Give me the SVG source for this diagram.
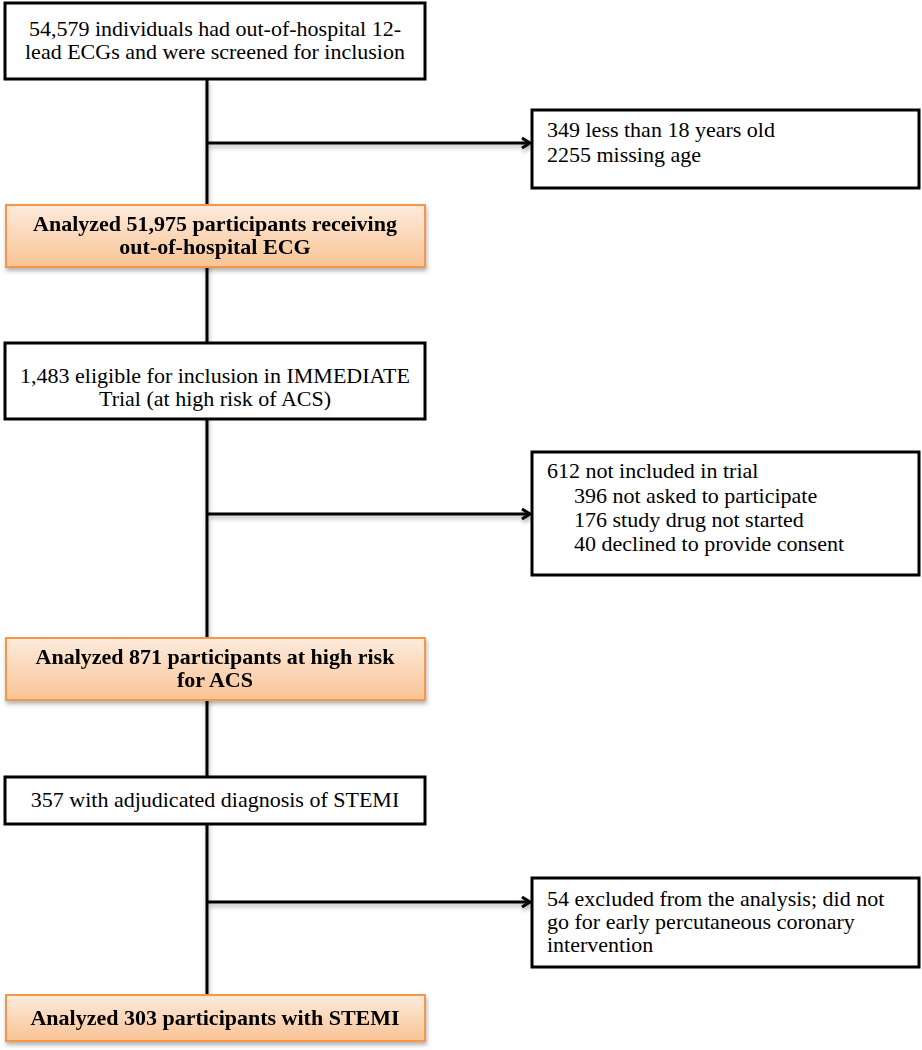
<svg xmlns="http://www.w3.org/2000/svg" width="922" height="1050" viewBox="0 0 922 1050">
<style>
.box{fill:#ffffff;stroke:#000000;stroke-width:3}
.obox{fill:url(#og);stroke:#f79646;stroke-width:2}
.t{font-family:"Liberation Serif","DejaVu Serif",serif;font-size:22px;fill:#000000}
.b{font-family:"Liberation Serif","DejaVu Serif",serif;font-size:22px;font-weight:bold;fill:#000000}
.ln{stroke:#000000;stroke-width:3;fill:none}
</style>
<defs>
<linearGradient id="og" x1="0" y1="0" x2="0" y2="1">
<stop offset="0" stop-color="#fcebdd"/>
<stop offset="1" stop-color="#f9c395"/>
</linearGradient>
<filter id="sh" x="-5%" y="-20%" width="110%" height="150%">
<feDropShadow dx="1" dy="3" stdDeviation="2" flood-color="#000000" flood-opacity="0.3"/>
</filter>
<marker id="arr" markerWidth="14" markerHeight="14" refX="11" refY="7" orient="auto" markerUnits="userSpaceOnUse">
<polyline points="3,2 11,7 3,12" fill="none" stroke="#000000" stroke-width="3" stroke-linejoin="miter"/>
</marker>
</defs>
<g id="connectors" filter="url(#sh)">
<line class="ln" x1="207" y1="79" x2="207" y2="995"/>
<line class="ln" x1="207" y1="143" x2="530" y2="143" marker-end="url(#arr)"/>
<line class="ln" x1="207" y1="514" x2="530" y2="514" marker-end="url(#arr)"/>
<line class="ln" x1="207" y1="902" x2="530" y2="902" marker-end="url(#arr)"/>
</g>
<g id="n1">
<rect class="box" x="5" y="3" width="420" height="76"/>
<text class="t" x="215" y="36" text-anchor="middle">54,579 individuals had out-of-hospital 12-</text>
<text class="t" x="215" y="59" text-anchor="middle">lead ECGs and were screened for inclusion</text>
</g>
<g id="x1">
<rect class="box" x="532" y="110" width="387" height="78"/>
<text class="t" x="547" y="137">349 less than 18 years old</text>
<text class="t" x="547" y="162">2255 missing age</text>
</g>
<g id="a1" filter="url(#sh)">
<rect class="obox" x="6" y="205" width="419" height="62"/>
<text class="b" x="215" y="231" text-anchor="middle">Analyzed 51,975 participants receiving</text>
<text class="b" x="215" y="254" text-anchor="middle">out-of-hospital ECG</text>
</g>
<g id="n2">
<rect class="box" x="5" y="343" width="420" height="76"/>
<text class="t" x="215" y="383" text-anchor="middle">1,483 eligible for inclusion in IMMEDIATE</text>
<text class="t" x="215" y="406" text-anchor="middle">Trial (at high risk of ACS)</text>
</g>
<g id="x2">
<rect class="box" x="532" y="452" width="387" height="123"/>
<text class="t" x="547" y="478">612 not included in trial</text>
<text class="t" x="574" y="503">396 not asked to participate</text>
<text class="t" x="574" y="527">176 study drug not started</text>
<text class="t" x="574" y="551">40 declined to provide consent</text>
</g>
<g id="a2" filter="url(#sh)">
<rect class="obox" x="6" y="638" width="419" height="62"/>
<text class="b" x="215" y="664" text-anchor="middle">Analyzed 871 participants at high risk</text>
<text class="b" x="215" y="687" text-anchor="middle">for ACS</text>
</g>
<g id="n3">
<rect class="box" x="5" y="777" width="420" height="47"/>
<text class="t" x="215" y="807" text-anchor="middle">357 with adjudicated diagnosis of STEMI</text>
</g>
<g id="x3">
<rect class="box" x="532" y="878" width="387" height="89"/>
<text class="t" x="547" y="906">54 excluded from the analysis; did not</text>
<text class="t" x="547" y="929">go for early percutaneous coronary</text>
<text class="t" x="547" y="952">intervention</text>
</g>
<g id="a3" filter="url(#sh)">
<rect class="obox" x="6" y="995" width="419" height="46"/>
<text class="b" x="215" y="1025" text-anchor="middle">Analyzed 303 participants with STEMI</text>
</g>
</svg>
